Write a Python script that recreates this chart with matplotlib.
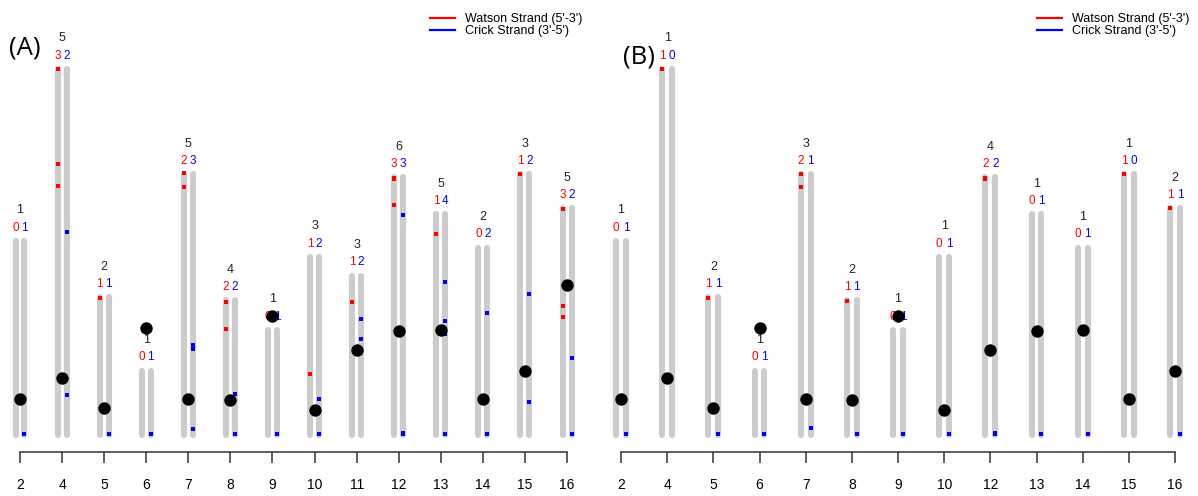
import matplotlib
matplotlib.use("Agg")
import matplotlib.pyplot as plt
from matplotlib.lines import Line2D

plt.rcParams['font.family'] = ['Liberation Sans', 'DejaVu Sans']

# ---- panel A data (kb) ----
chroms_a = ['2', '4', '5', '6', '7', '8', '9', '10', '11', '12', '13', '14', '15', '16']
lengths_a = [813, 1532, 577, 270, 1091, 563, 440, 746, 667, 1078, 924, 784, 1091, 948]
cen_a = [151, 238, 114, 449, 152, 148, 497, 105, 355, 436, 440, 151, 268, 628]
total_a = [1, 5, 2, 1, 5, 4, 1, 3, 3, 6, 5, 2, 3, 5]
watson_a = [0, 3, 1, 0, 2, 2, 0, 1, 1, 3, 1, 0, 1, 3]
crick_a = [1, 2, 1, 1, 3, 2, 1, 2, 2, 3, 4, 2, 2, 2]
watson_pos_a = [[], [1531, 1134, 1042], [573], [], [1096, 1038], [556, 444], [], [255],
                [556], [1075, 962, 1070], [841], [], [1092], [946, 540, 494]]
crick_pos_a = [[3], [849, 167], [3], [3], [377, 360, 25], [172, 3], [4], [151, 3],
               [485, 402], [921, 4, 8], [640, 477, 423, 3], [510, 3], [590, 138], [322, 3]]

# ---- panel B data (kb) ----
chroms_b = ['2', '4', '5', '6', '7', '8', '9', '10', '12', '13', '14', '15', '16']
lengths_b = [813, 1532, 577, 270, 1091, 563, 440, 746, 1078, 924, 784, 1091, 948]
cen_b = [151, 238, 114, 449, 152, 148, 497, 105, 355, 436, 440, 151, 268]
total_b = [1, 1, 2, 1, 3, 2, 1, 1, 4, 1, 1, 1, 2]
watson_b = [0, 1, 1, 0, 2, 1, 0, 0, 2, 0, 0, 1, 1]
crick_b = [1, 0, 1, 1, 1, 1, 1, 1, 2, 1, 1, 0, 1]
watson_pos_b = [[], [1531], [573], [], [1092, 1038], [561], [], [], [1075, 1072], [], [], [1092], [950]]
crick_pos_b = [[4], [], [4], [4], [29], [4], [4], [4], [8, 5], [4], [4], [], [4]]

RED = '#FF0000'
BLUE = '#0000FF'
GREY = '#CCCCCC'


def draw_panel(ax, chroms, lengths, cens, totals, watson, crick, wpos, cpos, xlim, tag, tag_xy, leg_xy):
    off = 0.106
    for i in range(len(chroms)):
        for dx in (-off, off):
            ax.plot([i + dx, i + dx], [0, lengths[i]], color=GREY, lw=4.4,
                    solid_capstyle='round', zorder=1)
        if wpos[i]:
            ax.plot([i - off] * len(wpos[i]), wpos[i], 's', color=RED, ms=2.4, mew=0, zorder=2)
        if cpos[i]:
            ax.plot([i + off] * len(cpos[i]), cpos[i], 's', color=BLUE, ms=2.4, mew=0, zorder=2)
        ax.annotate(str(watson[i]), (i - off, lengths[i]), xytext=(0, 9.5), textcoords='offset points',
                    ha='center', va='center', fontsize=8.5, color=RED, zorder=3)
        ax.annotate(str(crick[i]), (i + off, lengths[i]), xytext=(0, 9.5), textcoords='offset points',
                    ha='center', va='center', fontsize=8.5, color=BLUE, zorder=3)
        ax.annotate(str(totals[i]), (i, lengths[i]), xytext=(0, 22), textcoords='offset points',
                    ha='center', va='center', fontsize=9, color='#222222', zorder=3)
    ax.scatter(range(len(chroms)), cens, s=80, color='black', zorder=5, linewidths=0)

    ax.set_xlim(*xlim)
    ax.set_ylim(-255, 1820)
    ax.set_xticks(range(len(chroms)))
    ax.set_xticklabels(chroms, fontsize=16, color='#222222')
    ax.set_yticks([])
    for s in ('top', 'right', 'left'):
        ax.spines[s].set_visible(False)
    ax.spines['bottom'].set_position(('data', -71))
    ax.spines['bottom'].set_bounds(0, len(chroms) - 1)
    ax.spines['bottom'].set_color('#333333')
    ax.spines['bottom'].set_linewidth(1.1)
    ax.tick_params(axis='x', length=8, width=1.1, color='#333333', pad=11)
    ax.patch.set_alpha(0)

    ax.text(tag_xy[0], tag_xy[1], tag, transform=ax.transAxes, fontsize=18.5,
            ha='left', va='center', family=['Open Sans', 'DejaVu Sans'])
    handles = [Line2D([], [], color=RED, lw=1.6), Line2D([], [], color=BLUE, lw=1.6)]
    ax.legend(handles, ["Watson Strand (5'-3')", "Crick Strand (3'-5')"], loc='upper left',
              bbox_to_anchor=leg_xy, frameon=False, fontsize=9, handlelength=2.0,
              handletextpad=0.8, labelspacing=0.0, borderpad=0, borderaxespad=0)


fig = plt.figure(figsize=(11.98, 4.96), dpi=100)
ax_a = fig.add_axes([0, 0, 600 / 1198, 1])
ax_b = fig.add_axes([600 / 1198, 0, 598 / 1198, 1])

draw_panel(ax_a, chroms_a, lengths_a, cen_a, total_a, watson_a, crick_a, watson_pos_a, crick_pos_a,
           (-20 / 42.08, 580 / 42.08), '(A)', (9 / 600, 1 - 48 / 496), (430 / 600, 1 - 13 / 496))
draw_panel(ax_b, chroms_b, lengths_b, cen_b, total_b, watson_b, crick_b, watson_pos_b, crick_pos_b,
           (-21 / 46.17, 577 / 46.17), '(B)', (23 / 598, 1 - 57 / 496), (437 / 598, 1 - 13 / 496))

fig.savefig('out.png', dpi=100)
